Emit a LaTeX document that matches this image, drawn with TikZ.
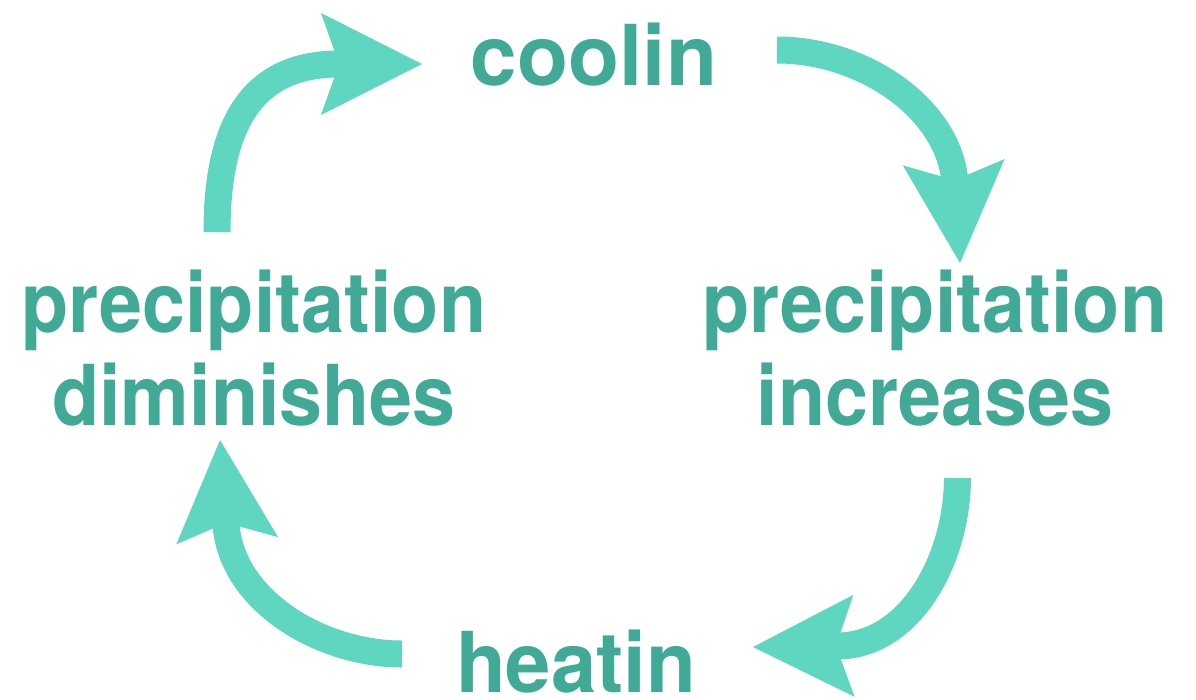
\documentclass[tikz,border=0pt]{standalone}
\usepackage{fontspec}
\newfontfamily\lblfont{TeX Gyre Heros}[FakeStretch=0.92]
\newfontfamily\lblfontc{TeX Gyre Heros}[FakeStretch=0.995]
\newfontfamily\lblfonth{TeX Gyre Heros}[FakeStretch=0.97]
\usetikzlibrary{arrows.meta}
\definecolor{txt}{HTML}{40AA96}
\definecolor{arr}{HTML}{5ED6C0}
\tikzset{
  lbl/.style={text=txt, inner sep=0pt, anchor=base, align=center,
    font=\lblfont\bfseries\fontsize{84}{93}\selectfont},
  cyc/.style={draw=arr, line width=27pt,
    -{Stealth[length=101pt,width=102pt,inset=18pt,line width=0pt]}}
}
\begin{document}
\begin{tikzpicture}[x=1pt,y=-1pt]
\useasboundingbox (0,0) rectangle (1196,699);
\node[lbl, font=\lblfontc\bfseries\fontsize{84}{93}\selectfont] (cool) at (594,85) {coolin};
\node[lbl, font=\lblfonth\bfseries\fontsize{84}{93}\selectfont] (heat) at (576,692) {heatin};
\node[lbl] (pdim) at (254,425) {precipitation\\diminishes};
\node[lbl] (pinc) at (935,425) {precipitation\\increases};
\coordinate (a1s) at (217,232);   \coordinate (a1e) at (422,64);
\coordinate (a2s) at (777,50);    \coordinate (a2e) at (960,263);
\coordinate (a3s) at (957.5,478); \coordinate (a3e) at (753,647);
\coordinate (a4s) at (402,654);   \coordinate (a4e) at (220,440);
\draw[cyc] (a1s) .. controls (217,120) and (255,64) .. (339,64) -- (a1e);
\draw[cyc] (a2s) .. controls (865,50) and (950,110) .. (955,183) -- (a2e);
\draw[cyc] (a3s) .. controls (957,560) and (910,646) .. (837,646) -- (a3e);
\draw[cyc] (a4s) .. controls (320,654) and (231,600) .. (226,524) -- (a4e);
\end{tikzpicture}
\end{document}
